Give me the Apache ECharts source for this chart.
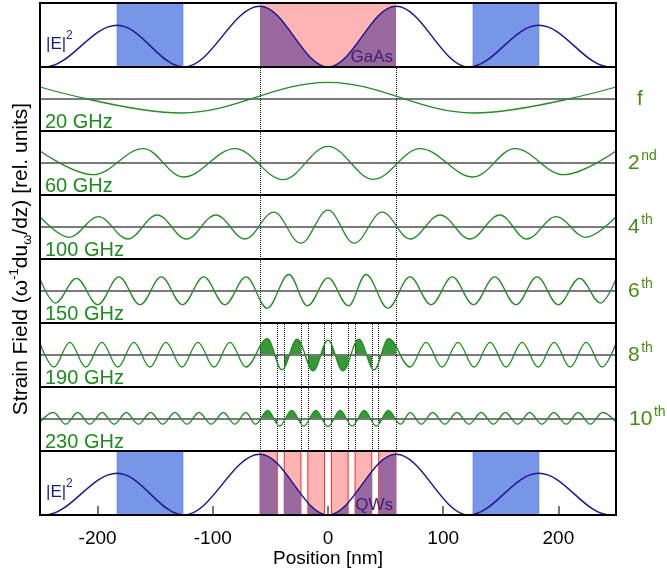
<!DOCTYPE html>
<html><head><meta charset="utf-8">
<script src="https://cdn.jsdelivr.net/npm/echarts@6/dist/echarts.min.js"></script>
<style>html,body{margin:0;padding:0;background:#fff}#c{width:667px;height:571px}</style>
</head><body><div id="c"></div><script>
// ---------- data ----------
const X_MIN = -250, X_MAX = 250;
const TICKS = [-200, -100, 0, 100, 200];
const CAVITY = [[-59, 59]];
const BLUE_LAYERS = [[-183, -126], [126, 183]];
const QWS = [[-59, -44], [-38, -23.5], [-17.5, -3], [3, 17.5], [23.5, 38], [44, 59]];

// |E|^2 (top and bottom panel), extrema
const E_X = [-250, -246, -183, -125, -59, 0, 59, 122, 183, 245, 250];
const E_Y = [0.004, 0, 0.687, 0, 1, 0, 1, 0, 0.687, 0, 0.004];

const FREQS = ['20 GHz', '60 GHz', '100 GHz', '150 GHz', '190 GHz', '230 GHz'];
const ORDERS = [['f', ''], ['2', 'nd'], ['4', 'th'], ['6', 'th'], ['8', 'th'], ['10', 'th']];

// strain field extrema, rel. units
const W20_X = [-250, -127, 0, 126, 250];
const W20_Y = [12, -14, 16.7, -14, 12];

const W60_X = [-250, -203.7, -160.3, -125.6, -80.7, -39, 0, 39.4, 79.9, 126.1, 162.3, 204.3, 250];
const W60_Y = [12, -11.7, 14.3, -14, 14.3, -16.6, 16.7, -16.3, 14.3, -14, 14.3, -11.7, 12];

const W100_X = [-250, -224.7, -199.2, -173.8, -148.3, -122.9, -97.4, -72, -47, -23.7, 0, 22.7, 47, 71.3, 97.3, 123.2, 149.1, 172.5, 198, 223.7, 250];
const W100_Y = [10.3, -10.3, 10.3, -12, 12, -12, 12, -12, 14.8, -16.2, 16.9, -16.2, 14.8, -12, 12, -12, 12, -12, 10.3, -10.3, 10.3];

const W150_X = [-250, -236.7, -218.3, -199.9, -181.5, -163.1, -144.7, -126.3, -107.9, -89.5, -71.2, -52.8, -34, -17.8, 0, 17.8, 33, 52, 71.2, 89.5, 107.9, 126.3, 144.7, 163.1, 181.5, 199.9, 218.3, 236.7, 250];
const W150_Y = [12, -12, 12.7, -13.8, 14.1, -13.8, 14.1, -13.8, 14.1, -13.8, 14.1, -17.2, 16.5, -14.8, 13.1, -14.8, 16.5, -17.2, 14.1, -13.8, 14.1, -13.8, 14.1, -13.8, 14.1, -13.8, 12.7, -12, 12];

const W190_X = [-250, -238, -224.1, -210.2, -196.3, -182.4, -168.5, -154.6, -140.7, -126.8, -112.9, -99, -85.1, -71.2, -52.7, -40, -26.8, -12.9, 0, 12.9, 26.8, 40, 52.7, 71.2, 85.1, 99, 112.9, 126.8, 140.7, 154.6, 168.5, 182.4, 196.3, 210.2, 224.1, 238, 250];
const W190_Y = [11.4, -12, 12.7, -12, 12.7, -12, 12.7, -12, 12.7, -12, 12.7, -12, 12.7, -12, 16.3, -14.8, 15.8, -15.8, 14.8, -15.8, 15.8, -14.8, 16.3, -12, 12.7, -12, 12.7, -12, 12.7, -12, 12.7, -12, 12.7, -12, 12.7, -12, 11.4];

const W230_X = [-250, -238.3, -227.7, -217.2, -206.7, -196.1, -185.6, -175.1, -164.6, -154, -143.5, -133, -122.4, -111.9, -101.4, -90.8, -81, -71.3, -63, -52.3, -42, -31.5, -21, -10.6, 0, 10.6, 21, 31.5, 42, 52.3, 63, 71.3, 81, 90.8, 101.4, 111.9, 122.4, 133, 143.5, 154, 164.6, 175.1, 185.6, 196.1, 206.7, 217.2, 227.7, 238.3, 250];
const W230_Y = [-3, 6.5, -5.2, 6.5, -5.2, 6.5, -5.2, 6.5, -5.2, 6.5, -5.2, 6.5, -5.2, 6.5, -5.2, 6.5, -5.2, 6.5, -5.2, 8.5, -7, 8.6, -7.2, 8.6, -7.5, 8.6, -7.2, 8.6, -7, 8.5, -5.2, 6.5, -5.2, 6.5, -5.2, 6.5, -5.2, 6.5, -5.2, 6.5, -5.2, 6.5, -5.2, 6.5, -5.2, 6.5, -5.2, 6.5, -3];

// ---------- styling ----------
const FONT = '"Liberation Sans", Arial, sans-serif';
const NAVY = '#1a1a8c', GREEN = '#248c24', LABEL_GREEN = '#1f8c1f', ORDER_GREEN = '#458c10';
const PINK = '#ffb4b4', BLUE = '#7896e8', BLUE_EDGE = '#5f82ea', PURPLE = '#98689f', FILL_GREEN = '#379837';
const S = 0.363;
const E_MAX = 1.054, W_LIM = 32;
const LEFT = 40, WIDTH = 576, TOP = 3, PH = 64;

const pts = (xs, ys) => xs.map((x, i) => [x, ys[i]]);
const WAVES = [[W20_X, W20_Y], [W60_X, W60_Y], [W100_X, W100_Y], [W150_X, W150_Y], [W190_X, W190_Y], [W230_X, W230_Y]];
const QW_EDGES = QWS.flat();
const DOTTED = [CAVITY.flat(), CAVITY.flat(), CAVITY.flat(), CAVITY.flat(), QW_EDGES, QW_EDGES];

function piecesFor(ranges, color) {
  const T = 'rgba(255,255,255,0)';
  const p = [{ lt: ranges[0][0], color: T }];
  ranges.forEach((r, i) => {
    p.push({ gte: r[0], lte: r[1], color: color });
    if (i < ranges.length - 1) p.push({ gt: r[1], lt: ranges[i + 1][0], color: T });
  });
  p.push({ gt: ranges[ranges.length - 1][1], color: T });
  return p;
}

const grids = [], xAxes = [], yAxes = [];
for (let i = 0; i < 8; i++) {
  grids.push({ left: LEFT, width: WIDTH, top: TOP + PH * i, height: PH, show: true, borderColor: '#000', borderWidth: 2, backgroundColor: 'transparent', z: 20 });
  const isE = (i === 0 || i === 7);
  xAxes.push({ type: 'value', gridIndex: i, min: X_MIN, max: X_MAX, show: i === 7,
    axisLine: { show: false }, axisTick: { show: false }, axisLabel: { show: false }, splitLine: { show: false } });
  yAxes.push({ type: 'value', gridIndex: i, min: isE ? 0 : -W_LIM, max: isE ? E_MAX : W_LIM, show: false, splitLine: { show: false } });
}
// whole-height grid only to carry the y-axis title
grids.push({ left: LEFT, width: WIDTH, top: TOP, height: PH * 8, show: false });
xAxes.push({ type: 'value', gridIndex: 8, min: X_MIN, max: X_MAX, show: false });
yAxes.push({ type: 'value', gridIndex: 8, min: 0, max: 1, show: true,
  axisLine: { show: false }, axisTick: { show: false }, axisLabel: { show: false }, splitLine: { show: false },
  name: '{n|Strain Field (ω}{s|-1}{n|du}{b|ω}{n|/dz) [rel. units]}',
  nameLocation: 'middle', nameRotate: 90, nameGap: 7,
  nameTextStyle: { color: '#000', rich: {
    n: { fontSize: 21, fontFamily: FONT, color: '#000', lineHeight: 26 },
    s: { fontSize: 13, fontFamily: FONT, color: '#000', lineHeight: 14, verticalAlign: 'top' },
    b: { fontSize: 13, fontFamily: FONT, color: '#000', lineHeight: 14, verticalAlign: 'bottom' } } } });

Object.assign(xAxes[7], {
  z: 15,
  axisTick: { show: true, inside: true, length: 9, lineStyle: { color: '#777', width: 2 }, customValues: TICKS },
  axisLabel: { show: true, customValues: TICKS, fontSize: 19, color: '#000', margin: 14, fontFamily: FONT },
  name: 'Position [nm]', nameLocation: 'middle', nameGap: 31,
  nameTextStyle: { fontSize: 19, color: '#000', fontFamily: FONT }
});

const lineBase = { type: 'line', smooth: S, smoothMonotone: 'x', symbol: 'none', silent: true, animation: false };
const blueAreas = BLUE_LAYERS.map(b => [{ xAxis: b[0], itemStyle: { color: BLUE, borderColor: BLUE_EDGE, borderWidth: 1 } }, { xAxis: b[1] }]);

const series = [];
// 0: top |E|^2 purple overlap fill + layer rectangles
series.push(Object.assign({}, lineBase, { xAxisIndex: 0, yAxisIndex: 0, data: pts(E_X, E_Y), z: 2,
  lineStyle: { width: 0, opacity: 0 }, areaStyle: { opacity: 1 },
  markArea: { silent: true, animation: false, data: [
    [{ xAxis: CAVITY[0][0], itemStyle: { color: PINK, borderWidth: 0 } }, { xAxis: CAVITY[0][1] }], ...blueAreas] } }));
// 1: top |E|^2 line
series.push(Object.assign({}, lineBase, { xAxisIndex: 0, yAxisIndex: 0, data: pts(E_X, E_Y), z: 3, lineStyle: { color: NAVY, width: 1.5 } }));
// 2..7: strain waves
WAVES.forEach((w, k) => {
  series.push(Object.assign({}, lineBase, { xAxisIndex: k + 1, yAxisIndex: k + 1, data: pts(w[0], w[1]), z: 10,
    lineStyle: { color: GREEN, width: 1.3 },
    markLine: { silent: true, animation: false, symbol: ['none', 'none'], label: { show: false },
      lineStyle: { type: 'dotted', color: '#111', width: 1 },
      data: [{ yAxis: 0, lineStyle: { type: 'solid', color: '#7a7a7a', width: 2 } }].concat(DOTTED[k].map(v => ({ xAxis: v }))) } }));
});
// 8,9: QW fills of 190 and 230 GHz
[4, 5].forEach(k => {
  series.push(Object.assign({}, lineBase, { xAxisIndex: k + 1, yAxisIndex: k + 1, data: pts(WAVES[k][0], WAVES[k][1]), z: 4,
    lineStyle: { width: 0, opacity: 0 }, areaStyle: { opacity: 1 } }));
});
// 10: bottom |E|^2 fill + QW rectangles
series.push(Object.assign({}, lineBase, { xAxisIndex: 7, yAxisIndex: 7, data: pts(E_X, E_Y), z: 2,
  lineStyle: { width: 0, opacity: 0 }, areaStyle: { opacity: 1 },
  markArea: { silent: true, animation: false, data:
    QWS.map(q => [{ xAxis: q[0], itemStyle: { color: PINK, borderColor: '#ff2a2a', borderWidth: 1 } }, { xAxis: q[1] }]).concat(blueAreas) } }));
// 11: bottom |E|^2 line
series.push(Object.assign({}, lineBase, { xAxisIndex: 7, yAxisIndex: 7, data: pts(E_X, E_Y), z: 3, lineStyle: { color: NAVY, width: 1.5 } }));

// ---------- text ----------
const txt = (x, y, text, size, color, align) => ({ type: 'text', x: x, y: y, silent: true, z: 30,
  style: { text: text, font: size + 'px ' + FONT, fill: color, textAlign: align || 'left', textVerticalAlign: 'middle' } });
const graphic = [];
FREQS.forEach((f, k) => graphic.push(txt(45, TOP + PH * (k + 1) + 55, f, 20, LABEL_GREEN)));
ORDERS.forEach((o, k) => {
  const yc = TOP + PH * (k + 1) + 32;
  const mainX = o[0] === 'f' ? 637 : (o[0].length > 1 ? 629 : 628);
  graphic.push(txt(mainX, yc, o[0], 21, ORDER_GREEN));
  if (o[1]) graphic.push(txt(mainX + 11.7 * o[0].length + 1.5, yc - 7, o[1], 14, ORDER_GREEN));
});
[TOP + 41, TOP + PH * 7 + 41].forEach(yc => {
  graphic.push(txt(46, yc, '|E|', 17, NAVY));
  graphic.push(txt(66, yc - 8, '2', 12, NAVY));
});
graphic.push(txt(393, TOP + 54, 'GaAs', 17, '#3b1f6e', 'right'));
graphic.push(txt(393, TOP + PH * 7 + 54, 'QWs', 17, '#3b1f6e', 'right'));

const chart = echarts.init(document.getElementById('c'), null, { renderer: 'canvas' });
chart.setOption({
  animation: false,
  backgroundColor: '#fff',
  grid: grids, xAxis: xAxes, yAxis: yAxes,
  visualMap: [
    { type: 'piecewise', show: false, dimension: 0, seriesIndex: 0, pieces: piecesFor(CAVITY, PURPLE) },
    { type: 'piecewise', show: false, dimension: 0, seriesIndex: 10, pieces: piecesFor(QWS, PURPLE) },
    { type: 'piecewise', show: false, dimension: 0, seriesIndex: [8, 9], pieces: piecesFor(QWS, FILL_GREEN) }
  ],
  series: series,
  graphic: graphic
});
</script></body></html>
